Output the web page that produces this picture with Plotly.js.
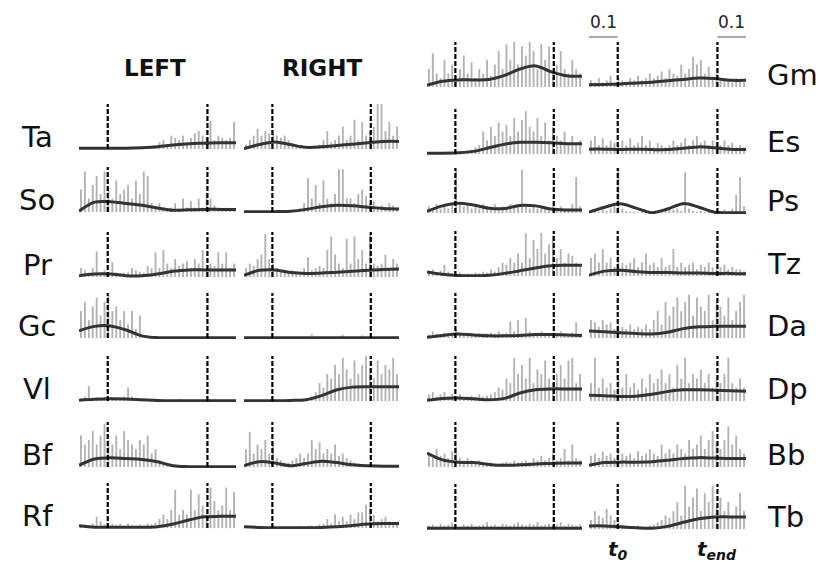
<!DOCTYPE html>
<html>
<head>
<meta charset="utf-8">
<script src="https://cdn.plot.ly/plotly-3.0.1.min.js"></script>
<style>html,body{margin:0;padding:0;background:#fff;}#chart{width:829px;height:562px;}</style>
</head>
<body>
<div id="chart"></div>
<script>
// ---- time markers (normalised movement time) ----
const tStart = 0.183;
const tEnd = 0.818;
// envelope sample times
const envX = [0, 0.1, 0.2, 0.3, 0.4, 0.5, 0.6, 0.7, 0.8, 0.9, 1.0];

// ---- left / right lower-limb muscles (raw EMG, 40 samples; envelope, 11 samples) ----
const taL_raw = [0,0,0,0,0,0,0,0,0,0,0,0,0,0,0,0,0,0.2,0.3,0.5,1.5,2,1,3,2.5,2,3,1.5,2.5,3.5,4,3,2.5,6.3,2,3,2.5,2,2.5,6];
const taL_env = [0.2,0.2,0.2,0.2,0.3,0.5,0.9,1.2,1.3,1.4,1.4];
const taR_raw = [1,2,3,4.5,3,4,3.5,4,3,2.5,3,2,1,0.8,0.5,0.3,0.5,0.3,0.5,1,2,4,1.5,2,3,5,2,3,6.5,2,6,3,4,5,10,10,4,6,3,5];
const taR_env = [0.1,1.0,1.6,1.0,0.4,0.5,0.8,1.1,1.4,1.7,1.7];

const soL_raw = [5,9,3,6,8,4,9,5,3,7,4,5,6,3,7,4,9,8,2,1,2,1,0.5,1,2,0.8,3,1,2.5,1,3,1,4,3,1.5,1,0.8,1,0.6,0.5];
const soL_env = [0.2,2.2,2.3,1.9,1.5,0.9,0.4,0.5,0.6,0.6,0.6];
const soR_raw = [0,0,0,0,0,0,0,0,0,0,0,0,0,0.3,0.8,2,7.5,3,6,2,7,3,2,4,9.5,9.5,3,3,2,4,5,3.5,2,2.5,1,1.5,1,2,1.5,1];
const soR_env = [0.1,0.1,0.1,0.2,0.6,1.2,1.5,1.4,1.1,0.8,0.7];

const prL_raw = [2,1.5,1,2,5.7,1,1.5,1,3.3,1,0.8,1,1,2,1.5,1.2,1,2.5,2,5.5,2,6,3,2,4,2.5,3,3.5,2,4,3,6,2,3,2.5,5.5,3,5.5,2,3];
const prL_env = [0.3,0.7,0.7,0.3,0.3,0.7,1.3,1.6,1.6,1.6,1.6];
const prR_raw = [2,3,2.5,4,5,9.6,4,3,2,1.5,1,1,1.5,1,1,2,4.4,1.5,2,2.5,2,6,9,5,3,2,8.5,3,9,4,6,3,9.5,3,2.5,3,5,2,4,3];
const prR_env = [0.4,1.5,1.6,1.0,0.8,0.9,1.1,1.3,1.5,1.7,1.8];

const gcL_raw = [6,8,4,7,9,5,8,9.5,6,7,4,6,3,6,2,5,0.3,0,0,0,0,0,0,0,0,0,0,0,0,0,0,0,0,0,0,0,0,0,0,0];
const gcL_env = [1.6,2.6,2.7,1.8,0.5,0.1,0.1,0.1,0.1,0.1,0.1];
const gcR_raw = [0,0,0,0,0,0,0,0,0,0,0,0,0,0,0,0,0,0.8,0,0,0,0,0,0,0,0.7,0,0,0,0,0.6,0,0,0,0,0,0,0,0,0];
const gcR_env = [0.1,0.1,0.1,0.1,0.1,0.1,0.1,0.1,0.1,0.1,0.1];

const vlL_raw = [0.5,1,3.3,0.5,0.8,0.6,1,0.8,0.5,0.6,0.5,1,3,1,0.6,0.5,0.4,0.3,0.3,0.2,0.2,0.3,0.2,0.2,0.3,0.5,0.2,0.2,0.2,0.3,0.2,0.4,0.2,0.5,0.2,0.2,0.2,0.2,0.2,0.2];
const vlL_env = [0.2,0.4,0.5,0.45,0.3,0.15,0.1,0.1,0.1,0.1,0.1];
const vlR_raw = [0,0,0,0,0,0,0,0,0,0,0,0,0,0,0,0,0.5,1,2,4,3,6,5,8,6,9.6,7,5,9,6,8,10,7,5,9,6,8,7,9.6,6];
const vlR_env = [0.1,0.1,0.1,0.15,0.3,1.2,2.5,3.1,3.2,3.2,3.2];

const bfL_raw = [7,5,6,8,5,7,9.6,6,5,7,4,8,6,5,4,6,5,7,3,4,1.5,0.8,0.3,0.2,0.2,0.2,0.2,0.2,0.2,0.2,0.2,0.2,0.2,0.2,0.2,0.2,0.2,0.2,0.2,0.2];
const bfL_env = [0.4,1.8,2.1,1.9,1.7,1.2,0.3,0.1,0.1,0.1,0.1];
const bfR_raw = [4,7.8,3,5,4,6,3,5,2,1.5,1,1,1.5,2,3,2,3,6,4,5.5,3,4,3,5,2.5,3,2,1.5,1,0.8,0.5,0.4,0.4,0.3,0.3,0.3,0.3,0.3,0.2,0.2];
const bfR_env = [0.3,1.2,0.9,0.3,0.8,1.3,1.0,0.5,0.3,0.2,0.2];

const rfL_raw = [0.5,0.8,0.6,1,2.5,1.5,0.8,0.5,1,0.7,1,0.5,1,0.6,0.5,0.8,0.6,1,0.8,1.2,2,3,2,4,8.5,3,4,3,8.5,4,7.5,5,3,9,6,4,5,9,4,8];
const rfL_env = [0.5,0.2,0.2,0.2,0.2,0.3,0.9,1.8,2.5,2.6,2.6];
const rfR_raw = [0.3,0.2,0.3,0.2,0.2,0.2,0.3,0.2,0.2,0.3,0.2,0.3,0.2,0.3,0.5,0.4,0.5,0.6,0.5,0.8,1,2,1,3,1.5,2.5,1.5,3,2,3.5,3.5,5.2,4.5,3,1.5,2,2.5,1.5,1,1];
const rfR_env = [0.3,0.15,0.1,0.1,0.1,0.15,0.3,0.6,0.9,1.0,1.0];

// ---- left / right trunk & upper-limb muscles ----
const gmL_raw = [4,7.5,3,2,6,3,5,2.5,4,7,3,5.5,2,4,3,6,2.5,5,8,4,9.5,6,10,5,9,7,10,8,4,9.5,6,9,3,5,8,4,3,6,4,3];
const gmL_env = [0.4,1.3,1.6,1.6,1.7,2.6,4.0,4.7,3.4,2.5,2.4];
const gmR_raw = [1.5,1,2,1,1.5,2.5,1,2,1.5,1,2,1.5,2.5,1.5,2,3,2,2.5,3.5,2,4,3,2.5,5,3,4,6.7,5,6,3,4.5,2,3,1.5,2,1.5,1,2,1.5,1];
const gmR_env = [0.5,0.6,0.7,0.9,1.1,1.4,1.7,2.0,1.9,1.5,1.5];

const esL_raw = [0.2,0.2,0.2,0.3,0.2,0.3,0.2,0.3,0.4,0.5,0.8,1,1.5,2,5,3,6,4,7,5,6.5,4,8,5,7.5,9.5,6,5,8,4,7,3,6,4,3,5,2.5,4,2,3];
const esL_env = [0.2,0.2,0.3,0.6,1.4,2.2,2.6,2.6,2.5,2.3,2.3];
const esR_raw = [3,4,2,3.5,2,3,2.5,2,3,2,3.5,2,2.5,4,2,3,1.5,2.5,2,1.5,2,3,2,2.5,3.5,2,3,4,2.5,3,2,3,2.5,2,3,2,2.5,1.5,2,1.5];
const esR_env = [1.1,1.1,1.0,1.1,1.0,1.0,1.3,1.6,1.4,1.1,1.0];

const psL_raw = [1.5,1,2,1,1.5,1,2,9.6,2,1.5,2,1,1.5,1,2,1.5,1,2,1,1.5,1,2,1.5,2,9.6,1.5,1,2,1,1.5,1,1,1.5,1,1.5,1,1,2,8,1.5];
const psL_env = [0.4,1.6,2.2,1.8,1.1,1.0,1.7,1.6,0.9,0.7,0.7];
const psR_raw = [0.3,0.5,0.3,0.8,0.5,1,1.5,10,1,0.5,0.3,0.3,0.2,0.3,0.5,0.3,0.4,0.5,0.8,0.5,1,0.8,1,0.5,9,1,0.5,0.3,0.5,0.3,0.3,0.2,0.3,0.5,0.8,0.5,1,4,8,1.5];
const psR_env = [0.2,1.3,2.1,1.1,0.1,0.9,2.1,1.3,0.2,0.1,0.1];

const tzL_raw = [1,1.5,0.8,1.2,2.5,1,0.6,0.5,0.8,0.5,0.6,0.5,0.8,0.6,1,0.8,1.5,1,2,3,2.5,4,3,5,3,9.5,4,8,6,9.6,5,7,9,4,6,3,5,4.5,3,2];
const tzL_env = [0.9,0.4,0.15,0.1,0.2,0.6,1.2,1.8,2.3,2.4,2.4];
const tzR_raw = [4,5,3,6,3,4,2,5,3,2.5,3,4,2,3,5,2.5,3,2,4,2,2.5,6,2,3,2,2.5,3,1.5,2.5,2,3,2,1.5,2,2.5,1.5,2,1.5,1.5,1];
const tzR_env = [0.2,1.1,1.3,1.0,0.8,0.8,0.7,0.7,0.6,0.6,0.5];

const daL_raw = [0.8,1.5,1,0.8,1.2,1,1,2,1,0.8,1,0.6,0.8,1,0.7,1,1.2,1,1.5,1,1.2,3.7,1.5,4,1,4.5,1.5,1,1.2,1.5,1,0.8,1.2,1,1.5,1,0.8,1.2,3.5,1];
const daL_env = [0.2,0.6,0.9,0.7,0.5,0.5,0.6,0.8,0.8,0.7,0.6];
const daR_raw = [4,3.5,2.5,4,3,3.5,2,3,2.5,2,3,2,2.5,2,3,2,4,6,3,8,5,7,9,6,8,9.6,5,9,7,6,9.6,4,8,7,5,9,4,6,8,9.6];
const daR_env = [1.6,1.4,1.2,1.0,0.9,1.3,2.1,2.5,2.6,2.6,2.6];

const dpL_raw = [1.5,2,1,1.5,2,1,1.5,1,1.5,0.8,1,1.2,1,1.5,1,1.2,1.5,2,3,2.5,5,4,9.6,6,8,5,9.6,4,7,6,9,5,4,6,8,5,9,9.6,4,6];
const dpL_env = [0.2,0.6,0.7,0.5,0.3,0.6,1.8,2.5,2.7,2.7,2.7];
const dpR_raw = [4,9.6,3,5,3,4,2.5,5,3,6,3,4,2.5,5,3,6,4,5,7,4,6,3,8,5,9.6,4,6,5,7,4,6,3,5,4,6,9.6,4,3,5,3];
const dpR_env = [1.3,1.2,1.0,1.1,1.5,2.1,2.5,2.5,2.4,2.3,2.2];

const bbL_raw = [3,2,4,2.5,3,2,3.5,4.5,2,1.5,2,1.5,1,1.5,1,0.8,1,0.6,0.8,1,1.2,1,1.5,1,1.2,1.5,1,2,1.5,2.5,1.5,2,3,1.5,2,4,1.5,5,2,1.5];
const bbL_env = [3.1,1.6,1.1,1.0,0.6,0.4,0.5,0.7,0.8,0.9,0.9];
const bbR_raw = [2.5,3,2,3.5,2.5,3,2,4,3,2.5,3,2,3.5,2.5,3,4,3,2.5,5,3,4,3,5,4,3,6,4,5,7,4,6,8,5,4,6,9,5,7,4,3];
const bbR_env = [0.4,1.0,1.1,1.1,1.2,1.5,1.9,2.1,2.0,1.9,1.9];

const tbL_raw = [0.8,1,0.6,1.2,0.8,1,1.5,0.8,0.6,1,0.8,1.2,0.6,0.8,1,1.5,0.8,1,0.6,1.2,1,0.8,1.2,1.5,1,0.8,1.2,1,1.5,0.8,1,1.2,0.8,1,1.5,0.8,1.2,1,0.8,1];
const tbL_env = [0.2,0.2,0.2,0.2,0.2,0.2,0.2,0.2,0.2,0.2,0.2];
const tbR_raw = [2,4,3,2.5,4.5,3,2,1.5,1,0.8,0.6,0.5,0.8,0.6,0.5,0.8,1,1.5,2,3,2.5,4,6,3,9.6,5,7,9,4,8,6,9.6,5,7,4,6,3,5,8,4];
const tbR_env = [0.7,0.7,0.5,0.3,0.2,0.6,1.5,2.3,2.7,2.7,2.7];

// labels
const lowerLabels = ['Ta','So','Pr','Gc','Vl','Bf','Rf'];
const upperLabels = ['Gm','Es','Ps','Tz','Da','Dp','Bb','Tb'];
const lowerData = [[taL_raw,taL_env,taR_raw,taR_env],[soL_raw,soL_env,soR_raw,soR_env],[prL_raw,prL_env,prR_raw,prR_env],
  [gcL_raw,gcL_env,gcR_raw,gcR_env],[vlL_raw,vlL_env,vlR_raw,vlR_env],[bfL_raw,bfL_env,bfR_raw,bfR_env],[rfL_raw,rfL_env,rfR_raw,rfR_env]];
const upperData = [[gmL_raw,gmL_env,gmR_raw,gmR_env],[esL_raw,esL_env,esR_raw,esR_env],[psL_raw,psL_env,psR_raw,psR_env],
  [tzL_raw,tzL_env,tzR_raw,tzR_env],[daL_raw,daL_env,daR_raw,daR_env],[dpL_raw,dpL_env,dpR_raw,dpR_env],
  [bbL_raw,bbL_env,bbR_raw,bbR_env],[tbL_raw,tbL_env,tbR_raw,tbR_env]];

// ---- layout geometry (pixels) ----
const W = 829, H = 562;
const colPx = [[79,236],[244,399],[427,582],[589,746]];
const lowerBase = [149,212,277,338,401,467,528];
const upperBase = [87,154,213,276,338,401,467,529];
const PANEL_H = 45;
const FONT = 'DejaVu Sans, Verdana, sans-serif';

const traces = [];
const shapes = [];
const annotations = [];
const layout = {
  width: W, height: H, margin: {l:0, r:0, t:0, b:0},
  paper_bgcolor: '#fff', plot_bgcolor: 'rgba(0,0,0,0)',
  showlegend: false, font: {family: FONT, color: '#111'},
  shapes: shapes, annotations: annotations
};

let k = 0;
const cellIds = {};
function addCell(raw, env, col, base, key) {
  k += 1;
  const xa = 'x' + k, ya = 'y' + k;
  const suffix = k === 1 ? '' : String(k);
  cellIds[key] = k;
  const [l, r] = colPx[col];
  layout['xaxis' + suffix] = {domain: [l / W, r / W], range: [0, 1], visible: false, fixedrange: true, anchor: ya};
  layout['yaxis' + suffix] = {domain: [1 - (base + 1) / H, 1 - (base - PANEL_H) / H], range: [-0.2, 10], visible: false, fixedrange: true, anchor: xa};
  const n = raw.length;
  const rawX = raw.map((_, i) => (i + 0.5) / n);
  traces.push({type: 'bar', x: rawX, y: raw, width: 0.012, xaxis: xa, yaxis: ya,
    marker: {color: '#b2b2b2', line: {width: 0}}, hoverinfo: 'skip'});
  traces.push({type: 'scatter', mode: 'lines', x: envX, y: env, xaxis: xa, yaxis: ya,
    line: {shape: 'spline', smoothing: 1, color: '#333333', width: 3}, hoverinfo: 'skip'});
  [tStart, tEnd].forEach(t => shapes.push({type: 'line', xref: xa, yref: ya, x0: t, x1: t, y0: 0, y1: 10,
    line: {color: '#000', width: 2.2, dash: '5px,2px'}}));
}

lowerData.forEach((d, i) => {
  addCell(d[0], d[1], 0, lowerBase[i], 'L' + i + 'a');
  addCell(d[2], d[3], 1, lowerBase[i], 'L' + i + 'b');
  annotations.push({xref: 'paper', yref: 'paper', x: 37 / W, y: 1 - (lowerBase[i] - 12) / H,
    text: lowerLabels[i], showarrow: false, xanchor: 'center', yanchor: 'middle',
    font: {family: FONT, size: 29, color: '#111'}});
});
upperData.forEach((d, i) => {
  addCell(d[0], d[1], 2, upperBase[i], 'U' + i + 'a');
  addCell(d[2], d[3], 3, upperBase[i], 'U' + i + 'b');
  annotations.push({xref: 'paper', yref: 'paper', x: 765 / W, y: 1 - (upperBase[i] - 12) / H,
    text: upperLabels[i], showarrow: false, xanchor: 'left', yanchor: 'middle',
    font: {family: FONT, size: 29, color: '#111'}});
});

// column headings
annotations.push({xref: 'paper', yref: 'paper', x: 155 / W, y: 1 - 68 / H, text: '<b>LEFT</b>', showarrow: false,
  xanchor: 'center', yanchor: 'middle', font: {family: FONT, size: 23, color: '#111'}});
annotations.push({xref: 'paper', yref: 'paper', x: 322 / W, y: 1 - 68 / H, text: '<b>RIGHT</b>', showarrow: false,
  xanchor: 'center', yanchor: 'middle', font: {family: FONT, size: 23, color: '#111'}});

// scale bars (0.1) above Gm right panel
const gmR = 'x' + cellIds['U0b'];
shapes.push({type: 'line', xref: gmR, yref: 'paper', x0: 0, x1: tStart, y0: 1 - 37 / H, y1: 1 - 37 / H, line: {color: '#555', width: 1}});
shapes.push({type: 'line', xref: gmR, yref: 'paper', x0: tEnd, x1: 1, y0: 1 - 37 / H, y1: 1 - 37 / H, line: {color: '#555', width: 1}});
annotations.push({xref: gmR, yref: 'paper', x: tStart / 2, y: 1 - 22 / H, text: '0.1', showarrow: false,
  xanchor: 'center', yanchor: 'middle', font: {family: FONT, size: 17, color: '#222'}});
annotations.push({xref: gmR, yref: 'paper', x: (tEnd + 1) / 2, y: 1 - 22 / H, text: '0.1', showarrow: false,
  xanchor: 'center', yanchor: 'middle', font: {family: FONT, size: 17, color: '#222'}});

// time marker labels under Tb right panel
const tbR = 'x' + cellIds['U7b'];
annotations.push({xref: tbR, yref: 'paper', x: tStart, y: 1 - 550 / H, text: '<b><i>t<sub>0</sub></i></b>', showarrow: false,
  xanchor: 'center', yanchor: 'middle', font: {family: FONT, size: 20, color: '#111'}});
annotations.push({xref: tbR, yref: 'paper', x: tEnd, y: 1 - 550 / H, text: '<b><i>t<sub>end</sub></i></b>', showarrow: false,
  xanchor: 'center', yanchor: 'middle', font: {family: FONT, size: 20, color: '#111'}});

Plotly.newPlot('chart', traces, layout, {displayModeBar: false, staticPlot: true});
</script>
</body>
</html>
